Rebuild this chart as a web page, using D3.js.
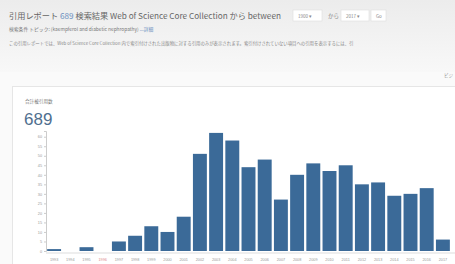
<!DOCTYPE html>
<html>
<head>
<meta charset="utf-8">
<script src="https://cdn.jsdelivr.net/npm/d3@7"></script>
<style>
body { margin: 0; background: #fff; font-family: "Noto Sans CJK JP", "Liberation Sans", sans-serif; }
</style>
</head>
<body>
<svg id="chart"></svg>
<script>
var years = ["1993","1994","1995","1996","1997","1998","1999","2000","2001","2002","2003","2004","2005","2006","2007","2008","2009","2010","2011","2012","2013","2014","2015","2016","2017"]
var counts = [1,0,2,0,5,8,13,10,18,51,62,58,44,48,27,40,46,42,45,35,36,29,30,33,6]
var yTicks = [0,5,10,15,20,25,30,35,40,45,50,55,60]

var width = 455, height = 264
var svg = d3.select('#chart')
    .attr('width', width)
    .attr('height', height)

// header background
var grad = svg.append('defs').append('linearGradient')
    .attr('id', 'hdr').attr('x1', 0).attr('x2', 0).attr('y1', 0).attr('y2', 1)
grad.append('stop').attr('offset', '0%').attr('stop-color', '#ececec')
grad.append('stop').attr('offset', '100%').attr('stop-color', '#f8f8f8')
svg.append('rect').attr('x', 0).attr('y', 0).attr('width', width).attr('height', 72).attr('fill', 'url(#hdr)')
svg.append('rect').attr('x', 0).attr('y', 72).attr('width', width).attr('height', height-72).attr('fill', '#fafafa')

// header text
var t1 = svg.append('text').attr('x', 9).attr('y', 19).attr('font-size', 8.2).attr('fill', '#666')
t1.append('tspan').text('引用レポート ')
t1.append('tspan').attr('fill', '#6b8fc0').text('689')
t1.append('tspan').text(' 検索結果 Web of Science Core Collection から  between')

function selBox(x, w, label) {
    svg.append('rect').attr('x', x).attr('y', 10).attr('width', w).attr('height', 11)
        .attr('fill', '#fff').attr('stroke', '#ddd').attr('stroke-width', 0.6)
    svg.append('text').attr('x', x + 5).attr('y', 18).attr('font-size', 4.5).attr('fill', '#888').text(label)
}
selBox(293, 29, '1900 ▾')
svg.append('text').attr('x', 328).attr('y', 18).attr('font-size', 5.5).attr('fill', '#888').text('から')
selBox(341, 28, '2017 ▾')
selBox(371, 15, 'Go')

var t2 = svg.append('text').attr('x', 9).attr('y', 31).attr('font-size', 4.8).attr('fill', '#777')
t2.append('tspan').text('検索条件  トピック: (kaempferol and diabetic nephropathy)  ')
t2.append('tspan').attr('fill', '#6b8fc0').text('...詳細')

svg.append('text').attr('x', 9).attr('y', 45).attr('font-size', 4.4).attr('fill', '#888')
    .text('この引用レポートでは、Web of Science Core Collection 内で索引付けされた出版物に対する引用のみが表示されます。索引付けされていない項目への引用を表示するには、引')

svg.append('text').attr('x', 444).attr('y', 77).attr('font-size', 4.5).attr('fill', '#999').text('ビジ')

// panel
svg.append('rect').attr('x', 12.5).attr('y', 86.5).attr('width', 460).attr('height', 200)
    .attr('fill', '#fff').attr('stroke', '#e6e6e6')

svg.append('text').attr('x', 25).attr('y', 103).attr('font-size', 4.6).attr('fill', '#777').text('合計被引用数')
svg.append('text').attr('x', 24).attr('y', 125).attr('font-size', 17).attr('fill', '#4f6f8f')
    .attr('font-family', 'Liberation Sans, sans-serif').text('689')

// chart
var x = d3.scaleBand().domain(years).range([46, 451]).paddingInner(0.14).paddingOuter(0.07)
var y = d3.scaleLinear().domain([0, 63]).range([251, 131])

var yAxis = svg.append('g')
    .attr('transform', 'translate(46,0)')
    .call(d3.axisLeft(y).tickValues(yTicks).tickSize(2).tickPadding(2))
yAxis.select('.domain').attr('stroke', '#ccc')
yAxis.selectAll('.tick line').attr('stroke', '#ccc')
yAxis.selectAll('text').attr('font-size', 3.8).attr('fill', '#999')

var xAxis = svg.append('g')
    .attr('transform', 'translate(0,253)')
    .call(d3.axisBottom(x).tickSize(0).tickPadding(5))
xAxis.select('.domain').attr('stroke', '#ddd').attr('d', 'M46,0H455')
xAxis.selectAll('text').attr('font-size', 3.8)
    .attr('fill', function (d, i) { return i == 3 ? '#d88' : '#999' })

svg.selectAll('.bar')
    .data(counts)
    .enter()
    .append('rect')
    .attr('class', 'bar')
    .attr('x', function (d, i) { return x(years[i]) })
    .attr('width', x.bandwidth())
    .attr('y', function (d) { return y(d) })
    .attr('height', function (d) { return y(0) - y(d) })
    .attr('fill', '#3b6a98')
</script>
</body>
</html>
